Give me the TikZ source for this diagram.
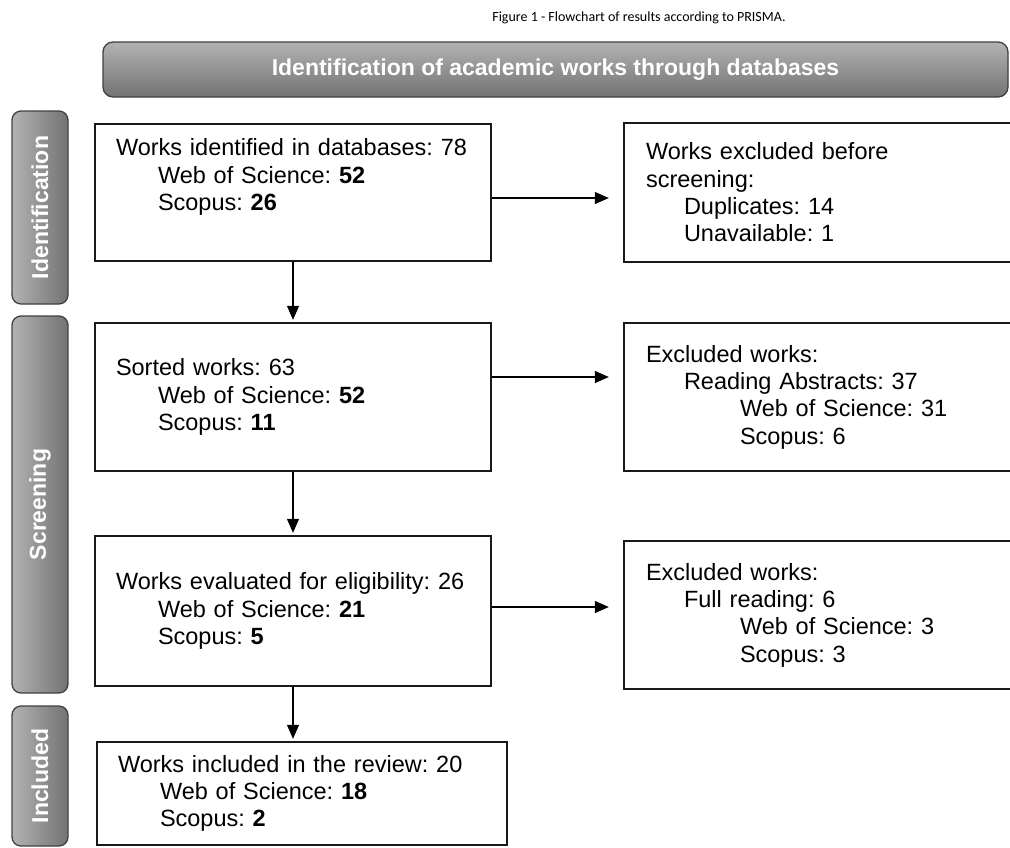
\documentclass[tikz,border=0pt]{standalone}
\usepackage{fontspec}
\setmainfont{Liberation Sans}
\newfontfamily\captionfont{Carlito}
\usepackage{graphicx}
\usepackage{xcolor}
\usepackage{tikz}
\usetikzlibrary{arrows.meta, positioning, calc, shadings}

\definecolor{barlight}{gray}{0.70}
\definecolor{bardark}{gray}{0.45}
\definecolor{barline}{gray}{0.25}

\newcommand{\flowfont}{\fontsize{23.5}{27.3}\selectfont\frenchspacing}
\newcommand{\stagefont}{\fontsize{23}{27}\selectfont\bfseries}

\begin{document}
\begin{tikzpicture}[
    x=1pt, y=1pt,
    stagebar/.style={draw=barline, line width=1.3pt, rounded corners=9pt, left color=barlight, right color=bardark, minimum width=56pt, text=white, font=\stagefont},
    flowbox/.style={draw=black!90, line width=2.4pt, rectangle, align=left, inner xsep=21pt, font=\flowfont},
    exclbox/.style={flowbox, inner xsep=22pt, text width=370pt},
    arr/.style={-{Triangle[length=14pt, width=12pt]}, line width=1.2pt}
]
\useasboundingbox (0,0) rectangle (1010,-847);
\clip (0,0) rectangle (1010,-847);

% Caption and header
\node[font=\captionfont\fontsize{14}{16}\selectfont] (title) at (639,-18) {Figure 1 - Flowchart of results according to PRISMA.};
\node[draw=barline, line width=1.3pt, rounded corners=10pt, top color=barlight, bottom color=bardark, minimum width=905pt, minimum height=55pt, text=white, font=\stagefont] (header) at (555.5,-69.5) {Identification of academic works through databases};

% Stage bars
\node[stagebar, minimum height=193pt] (identbar) at (40,-207.5) {\rotatebox{90}{Identification}};
\node[stagebar, minimum height=377pt] (screenbar) at (40,-504.5) {\rotatebox{90}{Screening}};
\node[stagebar, minimum height=140pt] (inclbar) at (40,-776) {\rotatebox{90}{Included}};

% Main boxes
\node[flowbox, text width=354pt, minimum height=137pt] (identified) at (293,-192.5) {Works identified in databases: 78\\\hspace*{42pt}Web of Science: \textbf{52}\\\hspace*{42pt}Scopus: \textbf{26}\\\strut};
\node[flowbox, text width=354pt, minimum height=148pt] (sorted) at (293,-397) {Sorted works: 63\\\hspace*{42pt}Web of Science: \textbf{52}\\\hspace*{42pt}Scopus: \textbf{11}};
\node[flowbox, text width=354pt, minimum height=150pt] (evaluated) at (293,-611) {Works evaluated for eligibility: 26\\\hspace*{42pt}Web of Science: \textbf{21}\\\hspace*{42pt}Scopus: \textbf{5}};
\node[flowbox, text width=368pt, minimum height=103pt] (included) at (302,-793.5) {Works included in the review: 20\\\hspace*{42pt}Web of Science: \textbf{18}\\\hspace*{42pt}Scopus: \textbf{2}};

% Exclusion boxes
\node[exclbox, minimum height=139pt] (exclbefore) at (831,-192.5) {Works excluded before\\screening:\\\hspace*{38pt}Duplicates: 14\\\hspace*{38pt}Unavailable: 1};
\node[exclbox, minimum height=148pt] (exclabstract) at (831,-397) {Excluded works:\\\hspace*{38pt}Reading Abstracts: 37\\\hspace*{94pt}Web of Science: 31\\\hspace*{94pt}Scopus: 6};
\node[exclbox, minimum height=148pt] (exclfull) at (831,-615) {Excluded works:\\\hspace*{38pt}Full reading: 6\\\hspace*{94pt}Web of Science: 3\\\hspace*{94pt}Scopus: 3};

% Arrows
\draw[arr, shorten >=2pt] (identified.south) -- (sorted.north);
\draw[arr, shorten >=2pt] (sorted.south) -- (evaluated.north);
\draw[arr, shorten >=2pt] (evaluated.south) -- (evaluated.south |- included.north);
\draw[arr, shorten >=14pt] ([yshift=-5.5pt]identified.east) -- ([yshift=-5.5pt]identified.east -| exclbefore.west);
\draw[arr, shorten >=14pt] ([yshift=20pt]sorted.east) -- ([yshift=20pt]sorted.east -| exclabstract.west);
\draw[arr, shorten >=14pt] ([yshift=4pt]evaluated.east) -- ([yshift=4pt]evaluated.east -| exclfull.west);

\end{tikzpicture}
\end{document}
